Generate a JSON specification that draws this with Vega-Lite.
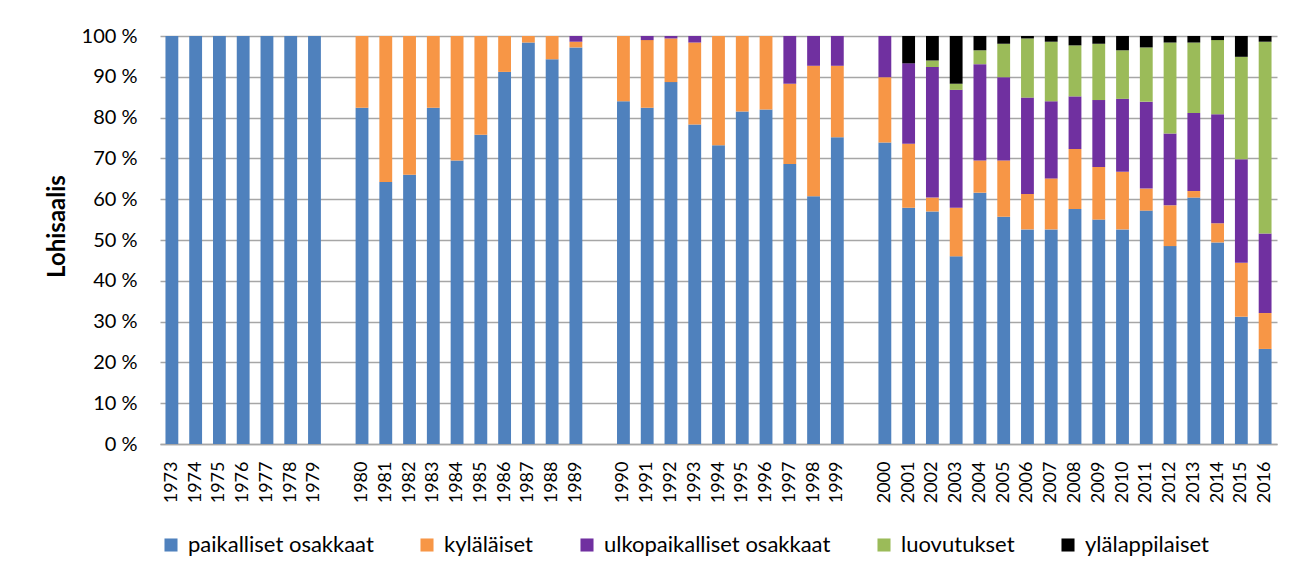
{
  "$schema": "https://vega.github.io/schema/vega-lite/v6.json",
  "width": 1117,
  "height": 408,
  "autosize": {"type": "none"},
  "padding": {"left": 160, "top": 36, "right": 32, "bottom": 134},
  "background": "white",
  "config": {
    "view": {"stroke": null},
    "font": "Lato",
    "axis": {"labelFont": "Lato", "titleFont": "Lato"},
    "legend": {"labelFont": "Lato"}
  },
  "datasets": {
    "ranks": [
      {"c":"paikalliset osakkaat","rank":1},
      {"c":"kyläläiset","rank":2},
      {"c":"ulkopaikalliset osakkaat","rank":3},
      {"c":"luovutukset","rank":4},
      {"c":"ylälappilaiset","rank":5}
    ]
  },
  "data": {
    "values": [
      {"y":"1973","c":"paikalliset osakkaat","v":100},
      {"y":"1974","c":"paikalliset osakkaat","v":100},
      {"y":"1975","c":"paikalliset osakkaat","v":100},
      {"y":"1976","c":"paikalliset osakkaat","v":100},
      {"y":"1977","c":"paikalliset osakkaat","v":100},
      {"y":"1978","c":"paikalliset osakkaat","v":100},
      {"y":"1979","c":"paikalliset osakkaat","v":100},
      {"y":"1980","c":"paikalliset osakkaat","v":82.4},{"y":"1980","c":"kyläläiset","v":17.6},
      {"y":"1981","c":"paikalliset osakkaat","v":64.2},{"y":"1981","c":"kyläläiset","v":35.8},
      {"y":"1982","c":"paikalliset osakkaat","v":66.0},{"y":"1982","c":"kyläläiset","v":34.0},
      {"y":"1983","c":"paikalliset osakkaat","v":82.4},{"y":"1983","c":"kyläläiset","v":17.6},
      {"y":"1984","c":"paikalliset osakkaat","v":69.5},{"y":"1984","c":"kyläläiset","v":30.5},
      {"y":"1985","c":"paikalliset osakkaat","v":75.8},{"y":"1985","c":"kyläläiset","v":24.2},
      {"y":"1986","c":"paikalliset osakkaat","v":91.2},{"y":"1986","c":"kyläläiset","v":8.8},
      {"y":"1987","c":"paikalliset osakkaat","v":98.4},{"y":"1987","c":"kyläläiset","v":1.6},
      {"y":"1988","c":"paikalliset osakkaat","v":94.3},{"y":"1988","c":"kyläläiset","v":5.7},
      {"y":"1989","c":"paikalliset osakkaat","v":97.2},{"y":"1989","c":"kyläläiset","v":1.4},{"y":"1989","c":"ulkopaikalliset osakkaat","v":1.4},
      {"y":"1990","c":"paikalliset osakkaat","v":84.0},{"y":"1990","c":"kyläläiset","v":16.0},
      {"y":"1991","c":"paikalliset osakkaat","v":82.4},{"y":"1991","c":"kyläläiset","v":16.6},{"y":"1991","c":"ulkopaikalliset osakkaat","v":1.0},
      {"y":"1992","c":"paikalliset osakkaat","v":88.7},{"y":"1992","c":"kyläläiset","v":10.7},{"y":"1992","c":"ulkopaikalliset osakkaat","v":0.6},
      {"y":"1993","c":"paikalliset osakkaat","v":78.3},{"y":"1993","c":"kyläläiset","v":20.1},{"y":"1993","c":"ulkopaikalliset osakkaat","v":1.6},
      {"y":"1994","c":"paikalliset osakkaat","v":73.2},{"y":"1994","c":"kyläläiset","v":26.8},
      {"y":"1995","c":"paikalliset osakkaat","v":81.5},{"y":"1995","c":"kyläläiset","v":18.5},
      {"y":"1996","c":"paikalliset osakkaat","v":82.0},{"y":"1996","c":"kyläläiset","v":18.0},
      {"y":"1997","c":"paikalliset osakkaat","v":68.6},{"y":"1997","c":"kyläläiset","v":19.7},{"y":"1997","c":"ulkopaikalliset osakkaat","v":11.7},
      {"y":"1998","c":"paikalliset osakkaat","v":60.7},{"y":"1998","c":"kyläläiset","v":32.0},{"y":"1998","c":"ulkopaikalliset osakkaat","v":7.3},
      {"y":"1999","c":"paikalliset osakkaat","v":75.2},{"y":"1999","c":"kyläläiset","v":17.5},{"y":"1999","c":"ulkopaikalliset osakkaat","v":7.3},
      {"y":"2000","c":"paikalliset osakkaat","v":73.9},{"y":"2000","c":"kyläläiset","v":16.0},{"y":"2000","c":"ulkopaikalliset osakkaat","v":10.1},
      {"y":"2001","c":"paikalliset osakkaat","v":57.9},{"y":"2001","c":"kyläläiset","v":15.7},{"y":"2001","c":"ulkopaikalliset osakkaat","v":19.7},{"y":"2001","c":"ylälappilaiset","v":6.7},
      {"y":"2002","c":"paikalliset osakkaat","v":57.0},{"y":"2002","c":"kyläläiset","v":3.4},{"y":"2002","c":"ulkopaikalliset osakkaat","v":32.0},{"y":"2002","c":"luovutukset","v":1.6},{"y":"2002","c":"ylälappilaiset","v":6.0},
      {"y":"2003","c":"paikalliset osakkaat","v":46.0},{"y":"2003","c":"kyläläiset","v":11.9},{"y":"2003","c":"ulkopaikalliset osakkaat","v":28.9},{"y":"2003","c":"luovutukset","v":1.5},{"y":"2003","c":"ylälappilaiset","v":11.7},
      {"y":"2004","c":"paikalliset osakkaat","v":61.6},{"y":"2004","c":"kyläläiset","v":7.9},{"y":"2004","c":"ulkopaikalliset osakkaat","v":23.6},{"y":"2004","c":"luovutukset","v":3.4},{"y":"2004","c":"ylälappilaiset","v":3.5},
      {"y":"2005","c":"paikalliset osakkaat","v":55.7},{"y":"2005","c":"kyläläiset","v":13.8},{"y":"2005","c":"ulkopaikalliset osakkaat","v":20.4},{"y":"2005","c":"luovutukset","v":8.2},{"y":"2005","c":"ylälappilaiset","v":1.9},
      {"y":"2006","c":"paikalliset osakkaat","v":52.6},{"y":"2006","c":"kyläläiset","v":8.7},{"y":"2006","c":"ulkopaikalliset osakkaat","v":23.6},{"y":"2006","c":"luovutukset","v":14.5},{"y":"2006","c":"ylälappilaiset","v":0.6},
      {"y":"2007","c":"paikalliset osakkaat","v":52.6},{"y":"2007","c":"kyläläiset","v":12.5},{"y":"2007","c":"ulkopaikalliset osakkaat","v":18.9},{"y":"2007","c":"luovutukset","v":14.6},{"y":"2007","c":"ylälappilaiset","v":1.4},
      {"y":"2008","c":"paikalliset osakkaat","v":57.6},{"y":"2008","c":"kyläläiset","v":14.7},{"y":"2008","c":"ulkopaikalliset osakkaat","v":12.9},{"y":"2008","c":"luovutukset","v":12.5},{"y":"2008","c":"ylälappilaiset","v":2.3},
      {"y":"2009","c":"paikalliset osakkaat","v":55.0},{"y":"2009","c":"kyläläiset","v":12.9},{"y":"2009","c":"ulkopaikalliset osakkaat","v":16.4},{"y":"2009","c":"luovutukset","v":13.8},{"y":"2009","c":"ylälappilaiset","v":1.9},
      {"y":"2010","c":"paikalliset osakkaat","v":52.6},{"y":"2010","c":"kyläläiset","v":14.1},{"y":"2010","c":"ulkopaikalliset osakkaat","v":17.9},{"y":"2010","c":"luovutukset","v":11.9},{"y":"2010","c":"ylälappilaiset","v":3.5},
      {"y":"2011","c":"paikalliset osakkaat","v":57.2},{"y":"2011","c":"kyläläiset","v":5.4},{"y":"2011","c":"ulkopaikalliset osakkaat","v":21.3},{"y":"2011","c":"luovutukset","v":13.3},{"y":"2011","c":"ylälappilaiset","v":2.8},
      {"y":"2012","c":"paikalliset osakkaat","v":48.5},{"y":"2012","c":"kyläläiset","v":10.0},{"y":"2012","c":"ulkopaikalliset osakkaat","v":17.6},{"y":"2012","c":"luovutukset","v":22.3},{"y":"2012","c":"ylälappilaiset","v":1.6},
      {"y":"2013","c":"paikalliset osakkaat","v":60.4},{"y":"2013","c":"kyläläiset","v":1.6},{"y":"2013","c":"ulkopaikalliset osakkaat","v":19.1},{"y":"2013","c":"luovutukset","v":17.3},{"y":"2013","c":"ylälappilaiset","v":1.6},
      {"y":"2014","c":"paikalliset osakkaat","v":49.4},{"y":"2014","c":"kyläläiset","v":4.7},{"y":"2014","c":"ulkopaikalliset osakkaat","v":26.7},{"y":"2014","c":"luovutukset","v":18.2},{"y":"2014","c":"ylälappilaiset","v":1.0},
      {"y":"2015","c":"paikalliset osakkaat","v":31.2},{"y":"2015","c":"kyläläiset","v":13.2},{"y":"2015","c":"ulkopaikalliset osakkaat","v":25.4},{"y":"2015","c":"luovutukset","v":25.1},{"y":"2015","c":"ylälappilaiset","v":5.1},
      {"y":"2016","c":"paikalliset osakkaat","v":23.3},{"y":"2016","c":"kyläläiset","v":8.8},{"y":"2016","c":"ulkopaikalliset osakkaat","v":19.5},{"y":"2016","c":"luovutukset","v":47.0},{"y":"2016","c":"ylälappilaiset","v":1.4}
    ]
  },
  "transform": [
    {"lookup": "c", "from": {"data": {"name": "ranks"}, "key": "c", "fields": ["rank"]}}
  ],
  "mark": {"type": "bar"},
  "encoding": {
    "x": {
      "field": "y",
      "type": "ordinal",
      "scale": {
        "domain": ["1973","1974","1975","1976","1977","1978","1979","g1","1980","1981","1982","1983","1984","1985","1986","1987","1988","1989","g2","1990","1991","1992","1993","1994","1995","1996","1997","1998","1999","g3","2000","2001","2002","2003","2004","2005","2006","2007","2008","2009","2010","2011","2012","2013","2014","2015","2016"],
        "paddingInner": 0.46,
        "paddingOuter": 0.23
      },
      "axis": {
        "title": null,
        "labelAngle": -90,
        "labelExpr": "indexof(datum.value, 'g') == 0 ? '' : datum.value",
        "labelFontSize": 18,
        "labelColor": "#000000",
        "labelPadding": 17,
        "ticks": false,
        "domainColor": "#a6a6a6",
        "domainWidth": 1.5,
        "grid": false
      }
    },
    "y": {
      "field": "v",
      "type": "quantitative",
      "stack": "zero",
      "scale": {"domain": [0, 100], "nice": false},
      "axis": {
        "title": "Lohisaalis",
        "titleFontSize": 24,
        "titleFontWeight": "bold",
        "titleColor": "#000000",
        "titlePadding": 12,
        "titleY": 190,
        "values": [0,10,20,30,40,50,60,70,80,90,100],
        "labelExpr": "datum.value + ' %'",
        "labelFontSize": 20,
        "labelColor": "#000000",
        "labelPadding": 23,
        "ticks": false,
        "domain": false,
        "grid": true,
        "gridColor": "#a6a6a6",
        "gridWidth": 1.5
      }
    },
    "order": {"field": "rank", "type": "quantitative", "sort": "ascending"},
    "color": {
      "field": "c",
      "type": "nominal",
      "sort": ["paikalliset osakkaat","kyläläiset","ulkopaikalliset osakkaat","luovutukset","ylälappilaiset"],
      "scale": {
        "domain": ["paikalliset osakkaat","kyläläiset","ulkopaikalliset osakkaat","luovutukset","ylälappilaiset"],
        "range": ["#4F81BD","#F79646","#7030A0","#9BBB59","#000000"]
      },
      "legend": {
        "title": null,
        "orient": "none",
        "direction": "horizontal",
        "columns": 5,
        "legendX": 0,
        "legendY": 498,
        "symbolType": "square",
        "symbolSize": 170,
        "symbolStrokeWidth": 0,
        "labelFontSize": 22,
        "labelLimit": 0,
        "labelColor": "#000000",
        "labelOffset": 6,
        "columnPadding": 42
      }
    }
  }
}
